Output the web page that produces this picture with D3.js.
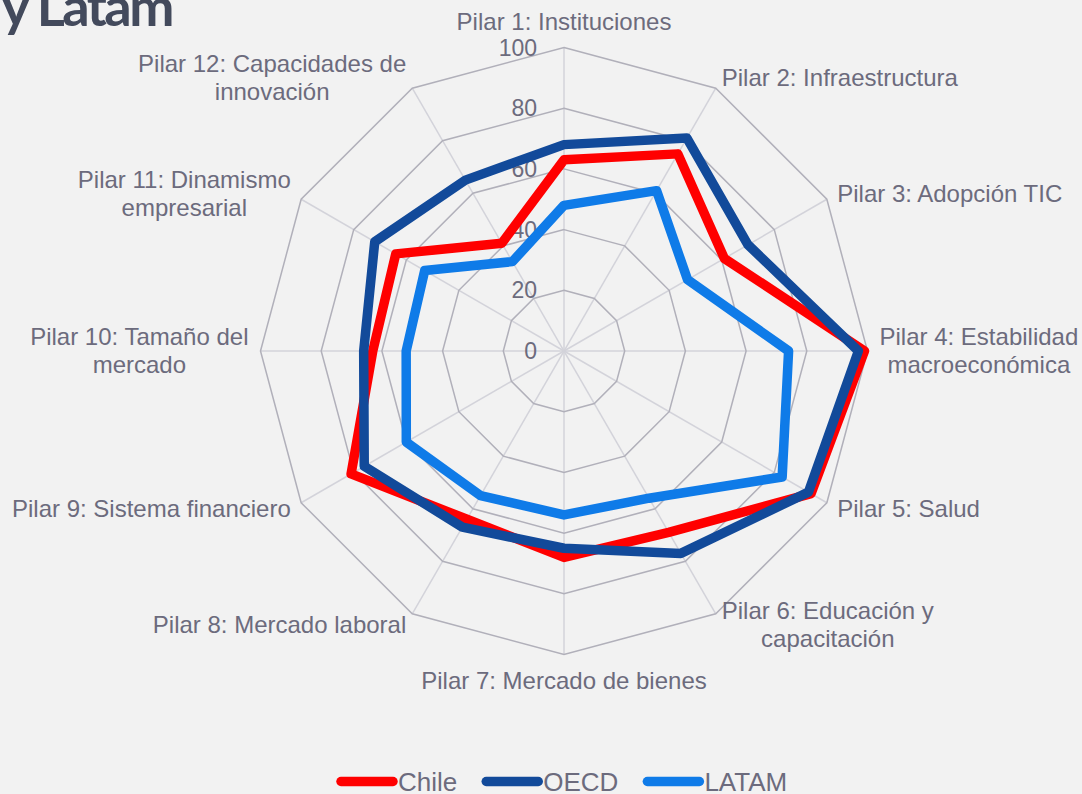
<!DOCTYPE html>
<html>
<head>
<meta charset="utf-8">
<script src="https://cdn.jsdelivr.net/npm/d3@7"></script>
<style>
  html, body { margin: 0; padding: 0; background: #f2f2f2; }
  svg { display: block; }
</style>
</head>
<body>
<div id="radar"></div>
<script>
// values
const pillars = [
  ['Pilar 1: Instituciones'],
  ['Pilar 2: Infraestructura'],
  ['Pilar 3: Adopción TIC'],
  ['Pilar 4: Estabilidad', 'macroeconómica'],
  ['Pilar 5: Salud'],
  ['Pilar 6: Educación y', 'capacitación'],
  ['Pilar 7: Mercado de bienes'],
  ['Pilar 8: Mercado laboral'],
  ['Pilar 9: Sistema financiero'],
  ['Pilar 10: Tamaño del', 'mercado'],
  ['Pilar 11: Dinamismo', 'empresarial'],
  ['Pilar 12: Capacidades de', 'innovación']
];
const chile = [63, 75, 61, 99, 94, 69, 68, 64, 81, 63, 64, 41];
const oecd  = [68, 81, 70, 97, 93, 77, 65, 67, 76, 66, 72, 65];
const latam = [48, 61, 47, 74, 83, 56, 54, 55, 60, 52, 53, 34];
const ticks = [0, 20, 40, 60, 80, 100];

const seriesNames = ['Chile', 'OECD', 'LATAM'];
const seriesValues = [chile, oecd, latam];
const seriesColors = ['#ff0000', '#124a9a', '#0f7be8'];

const dims = { width: 1082, height: 794 };
const center = { x: 564, y: 351 };
const radius = 303.5;

const svg = d3.select('#radar')
  .append('svg')
  .attr('width', dims.width)
  .attr('height', dims.height)
  .attr('viewBox', [0, 0, dims.width, dims.height]);

// cut-off title from the slide
svg.append('text')
  .attr('x', 172)
  .attr('y', 26)
  .attr('text-anchor', 'end')
  .attr('font-family', 'Lato, sans-serif')
  .attr('font-weight', 'bold')
  .attr('font-size', 54)
  .attr('letter-spacing', -2.5)
  .attr('fill', '#434a5c')
  .text('y Latam');

const g = svg.append('g')
  .attr('transform', `translate(${center.x},${center.y})`);

const rScale = d3.scaleLinear().domain([0, 100]).range([0, radius]);
const aScale = d3.scaleLinear().domain([0, pillars.length]).range([0, 2 * Math.PI]);

const idx = d3.range(pillars.length);

// rings
const ringLine = r => d3.lineRadial()
  .angle(i => aScale(i))
  .radius(rScale(r))
  .curve(d3.curveLinearClosed);

// spokes
g.selectAll('line.spoke')
  .data(idx)
  .join('line')
    .attr('class', 'spoke')
    .attr('x1', 0).attr('y1', 0)
    .attr('x2', i => rScale(100) * Math.sin(aScale(i)))
    .attr('y2', i => -rScale(100) * Math.cos(aScale(i)))
    .attr('stroke', '#d3d3da')
    .attr('stroke-width', 1.5);

g.selectAll('path.ring')
  .data(ticks.filter(t => t > 0))
  .join('path')
    .attr('class', 'ring')
    .attr('d', t => ringLine(t)(idx))
    .attr('fill', 'none')
    .attr('stroke', '#b1b0ba')
    .attr('stroke-width', 1.5);

// tick labels
g.selectAll('text.tick')
  .data(ticks)
  .join('text')
    .attr('class', 'tick')
    .attr('x', -27)
    .attr('y', t => -rScale(t))
    .attr('dy', '0.35em')
    .attr('text-anchor', 'end')
    .attr('font-family', 'Liberation Sans, Arial, sans-serif')
    .attr('font-size', 23)
    .attr('fill', '#6c6b7d')
    .text(t => t);

// series
const seriesLine = d3.lineRadial()
  .angle((d, i) => aScale(i))
  .radius(d => rScale(d))
  .curve(d3.curveLinearClosed);

g.selectAll('path.series')
  .data(seriesValues)
  .join('path')
    .attr('class', 'series')
    .attr('d', d => seriesLine(d))
    .attr('fill', 'none')
    .attr('stroke', (d, i) => seriesColors[i])
    .attr('stroke-width', 9.5)
    .attr('stroke-linejoin', 'round');

// axis labels
const lineH = 28;
const labelR = radius + 12;
pillars.forEach((lines, i) => {
  const a = aScale(i);
  const sx = Math.sin(a), cy = -Math.cos(a);
  const ax = labelR * sx, ay = labelR * cy;
  const t = g.append('text')
    .attr('font-family', 'Liberation Sans, Arial, sans-serif')
    .attr('font-size', 24)
    .attr('fill', '#6c6b7d')
    .attr('text-anchor', 'middle');
  const spans = lines.map(l => t.append('tspan').text(l));
  const w = d3.max(spans, s => s.node().getComputedTextLength());
  let bx = ax;
  if (sx > 0.01) bx = ax + w / 2;
  else if (sx < -0.01) bx = ax - w / 2;
  const bh = lines.length * lineH;
  let top = ay - bh / 2;
  if (Math.abs(sx) < 0.01) top = cy < 0 ? ay - bh : ay;
  spans.forEach((s, k) => {
    s.attr('x', bx).attr('y', top + lineH * k + lineH / 2).attr('dy', '0.35em');
  });
});

// legend
const legend = svg.append('g');
let lx = 337;
const ly = 781.5;
seriesNames.forEach((name, i) => {
  legend.append('line')
    .attr('x1', lx + 4).attr('x2', lx + 56)
    .attr('y1', ly).attr('y2', ly)
    .attr('stroke', seriesColors[i])
    .attr('stroke-width', 9.5)
    .attr('stroke-linecap', 'round');
  const txt = legend.append('text')
    .attr('x', lx + 61)
    .attr('y', ly)
    .attr('dy', '0.36em')
    .attr('font-family', 'Liberation Sans, Arial, sans-serif')
    .attr('font-size', 26)
    .attr('fill', '#6c6b7d')
    .text(name);
  lx += 61 + txt.node().getComputedTextLength() + 25;
});
</script>
</body>
</html>
